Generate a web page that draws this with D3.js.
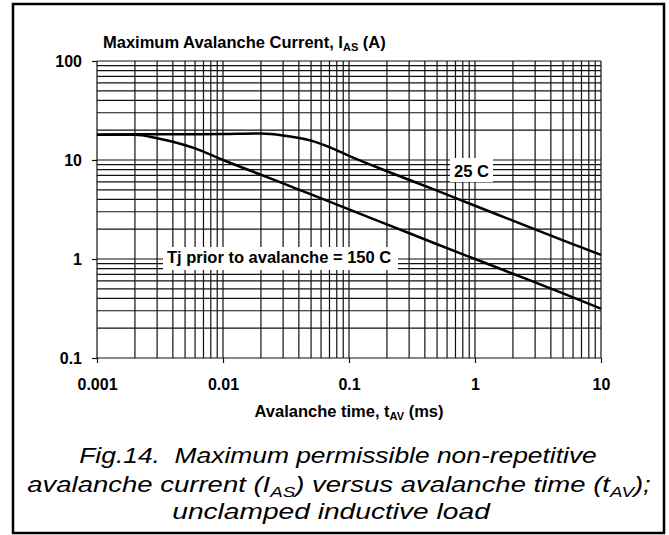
<!DOCTYPE html>
<html>
<head>
<meta charset="utf-8">
<script src="https://cdn.jsdelivr.net/npm/d3@7"></script>
<style>
  body { margin: 0; background: #fff; }
  text { font-family: "Liberation Sans", Arial, sans-serif; fill: #000; }
</style>
</head>
<body>
<div id="chart"></div>
<script>
// avalanche time (ms)
const tAv = [0.001, 0.002, 0.003, 0.004, 0.006, 0.01, 0.02, 0.03, 0.05, 0.07, 0.1, 0.2, 0.5, 1, 2, 5, 10];
// current (A) for each start temperature
const ias25 = [18.0, 18.2, 18.2, 18.2, 18.2, 18.3, 18.5, 17.7, 15.7, 13.5, 11.0, 7.7, 4.9, 3.45, 2.44, 1.54, 1.1];
const ias150 = [18.0, 18.0, 16.6, 15.3, 13.1, 10.0, 7.1, 5.8, 4.5, 3.8, 3.17, 2.24, 1.41, 1.0, 0.71, 0.45, 0.315];
const xTicks = [0.001, 0.01, 0.1, 1, 10];
const xLabels = ["0.001", "0.01", "0.1", "1", "10"];
const yTicks = [0.1, 1, 10, 100];
const yLabels = ["0.1", "1", "10", "100"];

const W = 669, H = 535;
const pLeft = 97, pRight = 601, pTop = 61, pBottom = 358;

const svg = d3.select("#chart").append("svg")
  .attr("width", W).attr("height", H);

// outer frame
svg.append("rect")
  .attr("x", 13).attr("y", 4).attr("width", 651).attr("height", 529)
  .attr("fill", "none").attr("stroke", "#000").attr("stroke-width", 2.5);

let x = d3.scaleLog().domain([0.001, 10]).range([pLeft, pRight]);
let y = d3.scaleLog().domain([0.1, 100]).range([pBottom, pTop]);

// grid lines, 1..9 in every decade
const grid = svg.append("g").attr("stroke", "#111").attr("stroke-width", 1.2);
grid.selectAll("line.v")
  .data(x.ticks())
  .enter().append("line")
    .attr("x1", d => x(d)).attr("x2", d => x(d))
    .attr("y1", pTop).attr("y2", pBottom);
grid.selectAll("line.h")
  .data(y.ticks())
  .enter().append("line")
    .attr("y1", d => y(d)).attr("y2", d => y(d))
    .attr("x1", pLeft).attr("x2", pRight);

// axes, major ticks only
let xAxis = svg.append("g")
  .attr("transform", "translate(0," + pBottom + ")")
  .call(d3.axisBottom(x).tickValues(xTicks).tickSize(5).tickPadding(16)
    .tickFormat((d, i) => xLabels[i]));
let yAxis = svg.append("g")
  .attr("transform", "translate(" + pLeft + ",0)")
  .call(d3.axisLeft(y).tickValues(yTicks).tickSize(5).tickPadding(10)
    .tickFormat((d, i) => yLabels[i]));
[xAxis, yAxis].forEach(a => {
  a.select(".domain").remove();
  a.selectAll(".tick line").attr("stroke", "#111").attr("stroke-width", 1.2);
  a.selectAll("text").attr("font-size", 16).attr("font-weight", "bold")
    .attr("font-family", "Liberation Sans, Arial, sans-serif").attr("fill", "#000");
});

// curves
const line = d3.line()
  .x((d, i) => x(tAv[i]))
  .y(d => y(d))
  .curve(d3.curveMonotoneX);
[ias25, ias150].forEach(s => {
  svg.append("path").datum(s)
    .attr("d", line)
    .attr("fill", "none").attr("stroke", "#000").attr("stroke-width", 2.5);
});

// curve labels on white boxes
function boxLabel(x0, y0, w, h, tx, ty, txt) {
  svg.append("rect").attr("x", x0).attr("y", y0).attr("width", w).attr("height", h).attr("fill", "#fff");
  svg.append("text").attr("x", tx).attr("y", ty)
    .attr("font-size", 16.5).attr("font-weight", "bold").text(txt);
}
boxLabel(450, 158, 43, 24, 454, 177, "25 C");
boxLabel(163, 247, 235, 23, 167, 263, "Tj prior to avalanche = 150 C");

// axis titles
let yt = svg.append("text").attr("x", 103).attr("y", 48)
  .attr("font-size", 16.5).attr("font-weight", "bold");
yt.append("tspan").text("Maximum Avalanche Current, I");
yt.append("tspan").attr("font-size", 11).attr("dy", 3).text("AS");
yt.append("tspan").attr("dy", -3).text(" (A)");

let xt = svg.append("text").attr("x", 349).attr("y", 417)
  .attr("text-anchor", "middle").attr("font-size", 16.5).attr("font-weight", "bold");
xt.append("tspan").text("Avalanche time, t");
xt.append("tspan").attr("font-size", 11).attr("dy", 3).text("AV");
xt.append("tspan").attr("dy", -3).text(" (ms)");

// caption, italic and stretched sideways
function caption(cx, yb, sx, parts) {
  let t = svg.append("text")
    .attr("transform", "translate(" + cx + "," + yb + ") scale(" + sx + ",1)")
    .attr("text-anchor", "middle").attr("font-size", 22).attr("font-style", "italic");
  let shifted = false;
  parts.forEach(p => {
    if (typeof p === "object") {
      t.append("tspan").attr("font-size", 15).attr("dy", 5).text(p.low);
      shifted = true;
    } else {
      let ts = t.append("tspan").text(p);
      if (shifted) { ts.attr("dy", -5); shifted = false; }
    }
  });
}
caption(338, 463, 1.2, ["Fig.14.\u00a0\u00a0Maximum permissible non-repetitive"]);
caption(339, 492, 1.25, ["avalanche current (I", {low: "AS"}, ") versus avalanche time (t", {low: "AV"}, ");"]);
caption(331, 519, 1.28, ["unclamped inductive load"]);
</script>
</body>
</html>
